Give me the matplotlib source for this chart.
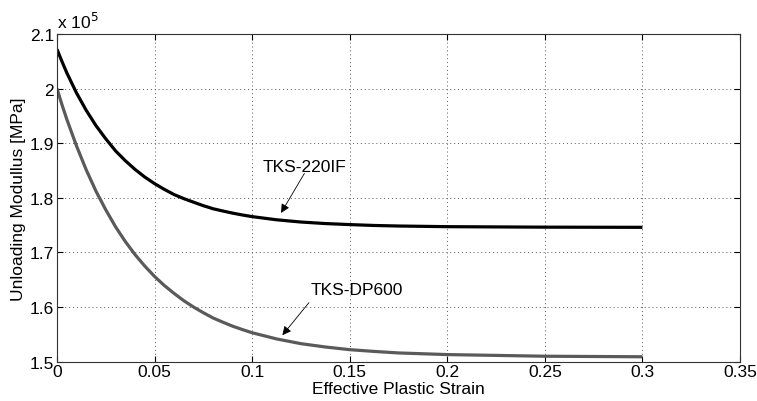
import matplotlib.pyplot as plt

plt.rcParams["font.family"] = ["Liberation Sans", "DejaVu Sans"]
plt.rcParams["font.size"] = 12.5

# values (modulus in units of 1e5 MPa)
strain = [0, 0.0025, 0.005, 0.01, 0.015, 0.02, 0.025, 0.03, 0.035, 0.04, 0.045, 0.05,
          0.055, 0.06, 0.065, 0.07, 0.075, 0.08, 0.085, 0.09, 0.095, 0.1,
          0.1125, 0.125, 0.1375, 0.15, 0.1625, 0.175, 0.2, 0.25, 0.3]
tks_220if = [2.072, 2.050, 2.029, 1.992, 1.960, 1.932, 1.908, 1.886, 1.868, 1.852, 1.838, 1.826,
             1.8155, 1.806, 1.7985, 1.792, 1.7856, 1.780, 1.7759, 1.772, 1.7686, 1.7656,
             1.7598, 1.7557, 1.7529, 1.751, 1.7494, 1.7484, 1.7472, 1.7463, 1.746]
tks_dp600 = [2.000, 1.971, 1.944, 1.895, 1.851, 1.812, 1.778, 1.747, 1.720, 1.696, 1.675, 1.656,
             1.6395, 1.625, 1.6116, 1.600, 1.5896, 1.580, 1.5723, 1.565, 1.5588, 1.553,
             1.5417, 1.533, 1.5269, 1.522, 1.5188, 1.516, 1.513, 1.510, 1.509]

fig = plt.figure(figsize=(7.57, 4.02), dpi=100)
ax = fig.add_axes([0.0753, 0.0978, 0.9022, 0.8152])

ax.plot(strain, tks_220if, color="black", lw=2.3, solid_capstyle="butt")
ax.plot(strain, tks_dp600, color="#5a5a5a", lw=2.3, solid_capstyle="butt")

arrow = dict(arrowstyle="-|>", color="black", lw=0.6, mutation_scale=13)
ax.text(0.127, 1.843, "TKS-220IF", ha="center", va="bottom")
ax.annotate("", xy=(0.1141, 1.768), xytext=(0.1275, 1.849), arrowprops=arrow)
ax.text(0.130, 1.6185, "TKS-DP600", ha="left", va="bottom")
ax.annotate("", xy=(0.1146, 1.5446), xytext=(0.130, 1.612), arrowprops=arrow)

ax.set_xlim(0, 0.35)
ax.set_ylim(1.5, 2.1)
ax.set_xticks([0, 0.05, 0.1, 0.15, 0.2, 0.25, 0.3, 0.35])
ax.set_xticklabels(["0", "0.05", "0.1", "0.15", "0.2", "0.25", "0.3", "0.35"])
ax.set_yticks([1.5, 1.6, 1.7, 1.8, 1.9, 2.0, 2.1])
ax.set_yticklabels(["1.5", "1.6", "1.7", "1.8", "1.9", "2", "2.1"])
ax.tick_params(direction="in", top=True, right=True, length=4, width=0.8, pad=2)
ax.grid(True, linestyle=(0, (1, 3)), linewidth=0.7, color="0.35")
for s in ax.spines.values():
    s.set_color("0.2")
    s.set_linewidth(0.8)

ax.text(0.0, 1.008, r"x 10$^5$", transform=ax.transAxes, ha="left", va="bottom")
ax.set_xlabel("Effective Plastic Strain", labelpad=1)
ax.set_ylabel("Unloading Modullus [MPa]", labelpad=3)

fig.savefig("out.png", dpi=100)
